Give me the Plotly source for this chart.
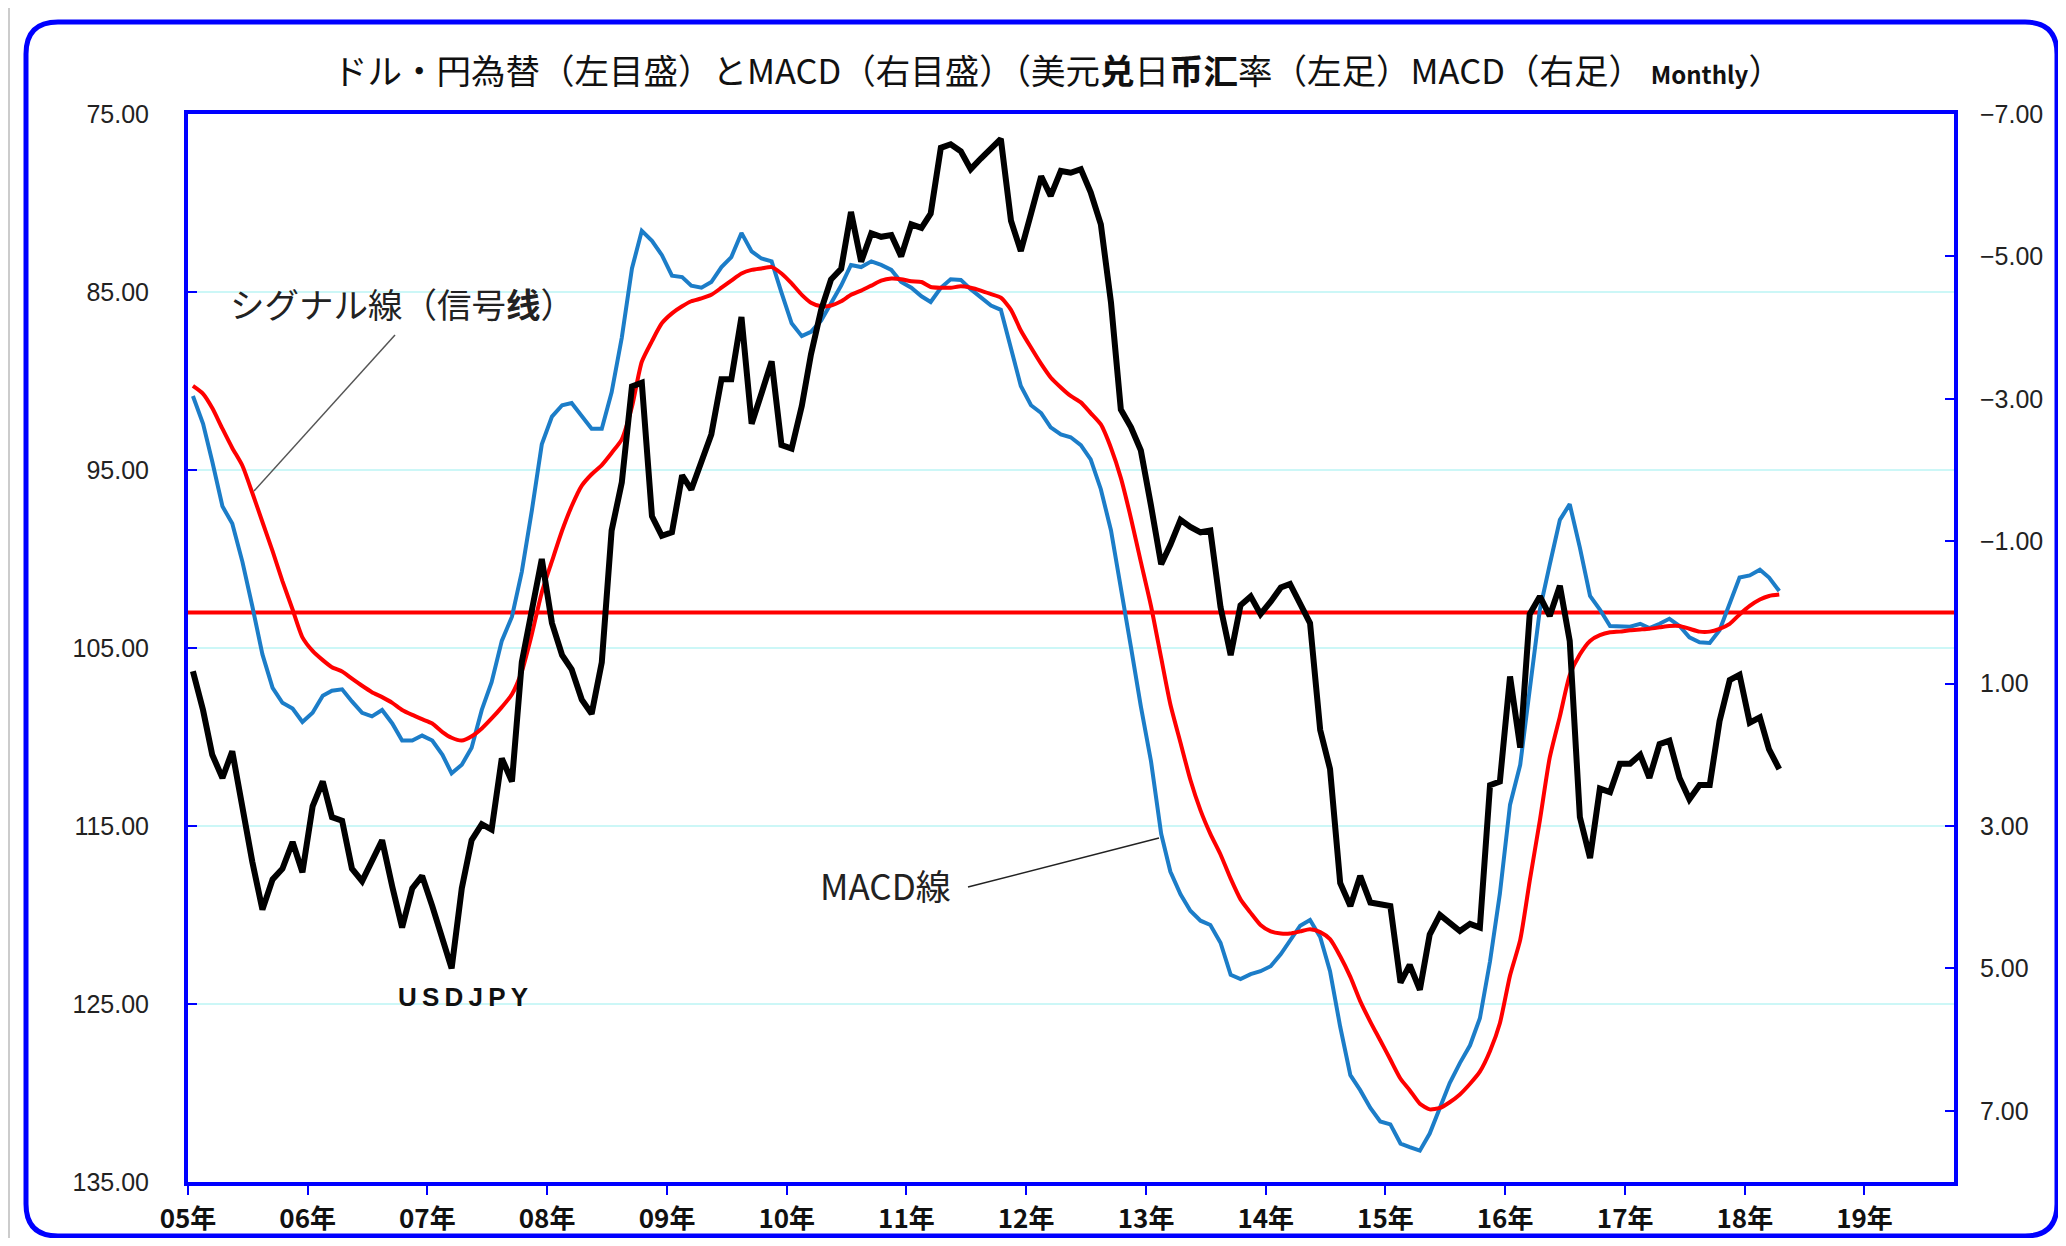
import pandas as pd
import plotly.graph_objects as go

# ---------------- data (monthly, Jan 2005 - Apr 2018) ----------------
start_month = "2005-01-01"

usdjpy = [
    106.3, 108.5, 111.0, 112.3, 110.8, 114.1, 117.0, 119.7, 118.0, 117.4, 115.9, 117.6,
    113.9, 112.5, 114.5, 114.7, 117.4, 118.1, 117.0, 115.8, 118.4, 120.7, 118.5, 117.8,
    119.5, 121.3, 123.0, 118.5, 115.8, 114.9, 115.2, 111.2, 112.5, 105.8, 102.7, 100.0,
    103.6, 105.4, 106.2, 107.9, 108.7, 105.8, 98.4, 95.7, 90.3, 90.1, 97.6, 98.7,
    98.5, 95.3, 96.1, 94.5, 93.0, 89.9, 89.9, 86.4, 92.4, 90.7, 88.9, 93.6,
    93.8, 91.4, 88.5, 86.0, 84.3, 83.7, 80.5, 83.3, 81.7, 81.9, 81.8, 83.0,
    81.2, 81.4, 80.6, 76.9, 76.7, 77.1, 78.1, 77.5, 76.9, 76.4, 81.0, 82.7,
    80.6, 78.5, 79.6, 78.2, 78.3, 78.1, 79.4, 81.2, 85.6, 91.6, 92.6, 93.9,
    97.0, 100.3, 99.2, 97.8, 98.2, 98.5, 98.4, 102.7, 105.4, 102.6, 102.1, 103.1,
    102.4, 101.6, 101.4, 102.5, 103.6, 109.6, 111.8, 118.2, 119.5, 117.8, 119.3, 119.4,
    119.5, 123.8, 122.8, 124.2, 121.1, 120.0, 120.4, 120.9, 120.5, 120.7, 112.7, 112.5,
    106.6, 110.6, 103.1, 102.1, 103.2, 101.5, 104.6, 114.5, 116.8, 112.9, 113.1, 111.5,
    111.5, 111.0, 112.3, 110.4, 110.2, 112.3, 113.5, 112.7, 112.7, 109.1, 106.8, 106.5,
    109.2, 108.9, 110.7, 111.8,
]

macd = [
    -3.04, -2.65, -2.12, -1.49, -1.25, -0.71, -0.09, 0.59, 1.06, 1.27, 1.35, 1.54,
    1.41, 1.17, 1.10, 1.08, 1.25, 1.41, 1.46, 1.37, 1.56, 1.80, 1.80, 1.73,
    1.80, 2.00, 2.26, 2.14, 1.90, 1.37, 0.98, 0.40, 0.06, -0.57, -1.44, -2.36,
    -2.75, -2.91, -2.94, -2.75, -2.58, -2.58, -3.09, -3.86, -4.83, -5.36, -5.22, -5.02,
    -4.73, -4.71, -4.59, -4.56, -4.64, -4.85, -4.99, -5.33, -5.07, -4.97, -4.93, -4.49,
    -4.06, -3.88, -3.94, -4.10, -4.35, -4.59, -4.88, -4.85, -4.93, -4.88, -4.81, -4.64,
    -4.56, -4.44, -4.36, -4.56, -4.68, -4.67, -4.54, -4.42, -4.31, -4.25, -3.71, -3.18,
    -2.91, -2.80, -2.60, -2.50, -2.46, -2.35, -2.15, -1.73, -1.15, -0.38, 0.49, 1.32,
    2.09, 3.11, 3.64, 3.96, 4.19, 4.33, 4.39, 4.64, 5.09, 5.15, 5.08, 5.04,
    4.97, 4.80, 4.61, 4.40, 4.32, 4.56, 5.04, 5.82, 6.50, 6.71, 6.96, 7.15,
    7.19, 7.46, 7.51, 7.56, 7.32, 6.96, 6.61, 6.33, 6.08, 5.70, 4.90, 3.95,
    2.70, 2.14, 1.10, -0.04, -0.67, -1.30, -1.52, -0.91, -0.23, -0.04, 0.19, 0.19,
    0.20, 0.16, 0.22, 0.16, 0.09, 0.19, 0.35, 0.42, 0.43, 0.25, -0.14, -0.49,
    -0.52, -0.60, -0.49, -0.30,
]

signal = [
    -3.18, -3.07, -2.87, -2.58, -2.31, -2.06, -1.68, -1.27, -0.86, -0.44, -0.04, 0.35,
    0.54, 0.67, 0.77, 0.83, 0.93, 1.03, 1.12, 1.19, 1.27, 1.37, 1.44, 1.50,
    1.56, 1.68, 1.76, 1.80, 1.74, 1.63, 1.49, 1.33, 1.15, 0.83, 0.30, -0.28,
    -0.72, -1.15, -1.49, -1.78, -1.94, -2.07, -2.24, -2.43, -2.89, -3.52, -3.81, -4.06,
    -4.20, -4.30, -4.37, -4.41, -4.46, -4.56, -4.66, -4.76, -4.81, -4.83, -4.85, -4.76,
    -4.62, -4.46, -4.35, -4.30, -4.31, -4.37, -4.46, -4.52, -4.59, -4.66, -4.69, -4.68,
    -4.65, -4.64, -4.57, -4.56, -4.56, -4.58, -4.56, -4.52, -4.47, -4.42, -4.25, -3.96,
    -3.72, -3.49, -3.30, -3.16, -3.04, -2.95, -2.80, -2.64, -2.31, -1.89, -1.32, -0.71,
    -0.09, 0.64, 1.29, 1.83, 2.35, 2.78, 3.11, 3.40, 3.74, 4.03, 4.22, 4.39,
    4.48, 4.51, 4.51, 4.48, 4.45, 4.49, 4.59, 4.83, 5.12, 5.46, 5.75, 6.01,
    6.28, 6.55, 6.71, 6.90, 6.98, 6.96, 6.88, 6.77, 6.62, 6.45, 6.16, 5.77,
    5.10, 4.60, 3.77, 2.92, 2.04, 1.46, 0.88, 0.59, 0.40, 0.32, 0.28, 0.27,
    0.25, 0.24, 0.23, 0.21, 0.19, 0.19, 0.23, 0.27, 0.27, 0.23, 0.16, 0.03,
    -0.09, -0.18, -0.23, -0.25,
]

year_ticks = list(range(2005, 2020))
year_labels = [f"{y % 100:02d}年" for y in year_ticks]
left_ticks = [75, 85, 95, 105, 115, 125, 135]
right_ticks = [-7, -5, -3, -1, 1, 3, 5, 7]
macd_zero = 0

# ---------------- layout geometry ----------------
# the page body has an 8px margin, so the figure is 16px smaller than the window
OFF = 8
W, H = 2066 - 2 * OFF, 1246 - 2 * OFF
PLOT_L, PLOT_R, PLOT_T, PLOT_B = 188, 1954, 114, 1182  # target window pixels
ML, MT = PLOT_L - OFF, PLOT_T - OFF
MR, MB = W - (PLOT_R - OFF), H - (PLOT_B - OFF)
PW, PH = W - ML - MR, H - MT - MB


def px(xp):
    return (xp - OFF - ML) / PW


def py(yp):
    return (H - MB - (yp - OFF)) / PH


dates = pd.date_range(start_month, periods=len(usdjpy), freq="MS") + pd.Timedelta(days=15)

BLUE_AX = "#0000FF"
CJK = "Noto Sans CJK JP"

fig = go.Figure()
fig.add_trace(go.Scatter(x=dates, y=macd, yaxis="y", mode="lines",
                         line=dict(color="#1C7DC8", width=4), name="MACD線"))
fig.add_trace(go.Scatter(x=dates, y=signal, yaxis="y", mode="lines",
                         line=dict(color="#FF0000", width=4, shape="spline", smoothing=0.6),
                         name="シグナル線"))
fig.add_trace(go.Scatter(x=dates, y=usdjpy, yaxis="y2", mode="lines",
                         line=dict(color="#000000", width=6), name="USDJPY"))

# MACD zero line
fig.add_shape(type="line", xref="paper", x0=0, x1=1, yref="y", y0=macd_zero, y1=macd_zero,
              line=dict(color="#FF0000", width=4), layer="between")

# outer rounded frame
x0, x1 = px(26), px(2057)
yt, yb = py(22), py(1236)
r = 32
rx, ry = r / PW, r / PH
path = (f"M {x0+rx},{yt} L {x1-rx},{yt} Q {x1},{yt} {x1},{yt-ry} "
        f"L {x1},{yb+ry} Q {x1},{yb} {x1-rx},{yb} "
        f"L {x0+rx},{yb} Q {x0},{yb} {x0},{yb+ry} "
        f"L {x0},{yt-ry} Q {x0},{yt} {x0+rx},{yt} Z")
fig.add_shape(type="path", xref="paper", yref="paper", path=path,
              line=dict(color="#0000FF", width=5), layer="below")
# page edge line on the left
fig.add_shape(type="line", xref="paper", yref="paper", x0=px(9), x1=px(9), y0=py(8), y1=py(1238),
              line=dict(color="#CCCCCC", width=2))

# leader lines
fig.add_shape(type="line", xref="paper", yref="paper", x0=px(395), y0=py(335), x1=px(254), y1=py(491),
              line=dict(color="#555555", width=1.5))
fig.add_shape(type="line", xref="paper", yref="paper", x0=px(968), y0=py(887), x1=px(1159), y1=py(838),
              line=dict(color="#222222", width=1.5))

title_text = ("ドル・円為替（左目盛）とMACD（右目盛）（美元<b>兑</b>日<b>币汇</b>率（左足）MACD（右足） "
              "<span style='font-size:24px'><b>Monthly</b></span>）")
fig.add_annotation(text=title_text, xref="paper", yref="paper", x=px(1058), y=py(69),
                   xanchor="center", yanchor="middle", showarrow=False,
                   font=dict(family=CJK, size=34.5, color="#111111"))
fig.add_annotation(text="シグナル線（信号<b>线</b>）", xref="paper", yref="paper", x=px(228), y=py(303),
                   xanchor="left", yanchor="middle", showarrow=False,
                   font=dict(family=CJK, size=34.5, color="#222222"))
fig.add_annotation(text="MACD線", xref="paper", yref="paper", x=px(818), y=py(884),
                   xanchor="left", yanchor="middle", showarrow=False,
                   font=dict(family=CJK, size=35, color="#222222"))
fig.add_annotation(text="<b>U\u2009S\u2009D\u2009J\u2009P\u2009Y</b>", xref="paper", yref="paper",
                   x=px(463), y=py(997), xanchor="center", yanchor="middle", showarrow=False,
                   font=dict(family="Liberation Sans", size=26, color="#111111"))

fig.update_layout(
    width=W, height=H,
    margin=dict(l=ML, r=MR, t=MT, b=MB, autoexpand=False),
    paper_bgcolor="white", plot_bgcolor="white",
    showlegend=False,
    xaxis=dict(
        type="date", range=["2005-01-01", "2019-10-01"], automargin=False,
        tickvals=[f"{y}-01-01" for y in year_ticks], ticktext=year_labels,
        showgrid=False, zeroline=False,
        showline=True, linecolor=BLUE_AX, linewidth=4, mirror=True,
        ticks="outside", ticklen=9, tickwidth=2, tickcolor=BLUE_AX,
        tickfont=dict(family=CJK, size=26, color="#111111", weight="bold"),
        ticklabelstandoff=2,
    ),
    yaxis=dict(
        side="right", range=[8, -7], automargin=False,
        tickvals=right_ticks, tickformat=".2f",
        showgrid=False, zeroline=False,
        showline=True, linecolor=BLUE_AX, linewidth=4,
        ticks="inside", ticklen=9, tickwidth=2, tickcolor=BLUE_AX,
        tickfont=dict(family="Liberation Sans", size=25, color="#222222"),
        ticklabelstandoff=17,
    ),
    yaxis2=dict(
        overlaying="y", side="left", range=[135, 75], automargin=False,
        tickvals=left_ticks, tickformat=".2f",
        showgrid=True, gridcolor="#CCF7F7", gridwidth=1.5, zeroline=False,
        showline=True, linecolor=BLUE_AX, linewidth=4,
        ticks="inside", ticklen=9, tickwidth=2, tickcolor=BLUE_AX,
        tickfont=dict(family="Liberation Sans", size=25, color="#222222"),
        ticklabelstandoff=30,
    ),
)

fig.write_html("out.html")
